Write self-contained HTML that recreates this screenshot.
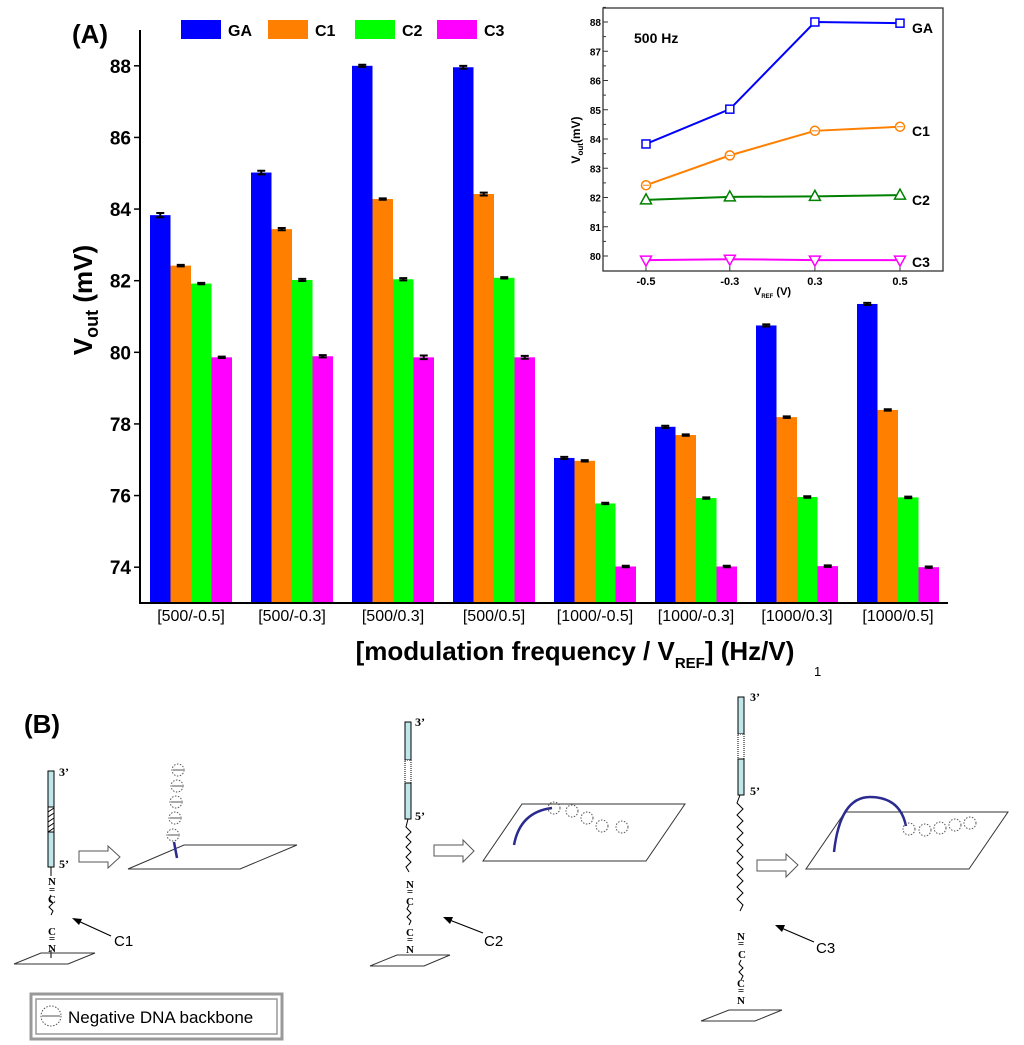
<!DOCTYPE html>
<html><head><meta charset="utf-8"><style>
html,body{margin:0;padding:0;background:#fff;}
svg{display:block;font-family:"Liberation Sans",Arial,sans-serif;}
</style></head><body>
<svg id="fig" width="1024" height="1045" viewBox="0 0 1024 1045" xmlns="http://www.w3.org/2000/svg">
<g id="mainChart"></g>
<g id="inset"></g>
<g id="partB">
  <text x="24" y="733" font-size="26" font-weight="bold">(B)</text>
  <g stroke="#000" stroke-width="1">
    <rect x="48" y="771" width="6" height="36" fill="#bfe6ea"/>
    <rect x="48" y="807" width="6" height="25" fill="#fff"/>
    <path d="M48,812 l6,-4 M48,817 l6,-4 M48,822 l6,-4 M48,827 l6,-4 M48,832 l6,-4" />
    <rect x="48" y="832" width="6" height="35" fill="#bfe6ea"/>
    <line x1="51" y1="867" x2="51" y2="876"/>
    <path d="M51,895 l-2,4 l4,4 l-4,4 l4,4 l-2,4" fill="none"/>
    <line x1="51" y1="950" x2="51" y2="958"/>
    <polygon points="14,964 68,964 95,953 41,953" fill="none" stroke="#333"/>
  </g>
  <text x="59" y="776" font-family="Liberation Serif" font-size="12" font-weight="bold">3’</text>
  <text x="59" y="868" font-family="Liberation Serif" font-size="12" font-weight="bold">5’</text>
  <g font-family="Liberation Serif" font-size="11" font-weight="bold" text-anchor="middle">
    <text x="52" y="885">N</text><text x="52" y="893">=</text><text x="52" y="903">C</text>
    <text x="52" y="935">C</text><text x="52" y="942">=</text><text x="52" y="952">N</text>
  </g>
  <line x1="111" y1="936" x2="76" y2="920" stroke="#000" stroke-width="1.2"/>
  <polygon points="72,918 82,919 79,925" fill="#000"/>
  <text x="114" y="946" font-size="15">C1</text>
  <polygon points="79,851 108,851 108,846 120,857 108,868 108,862 79,862" fill="#fff" stroke="#555"/>
  <polygon points="128,869 240,869 297,845 184,845" fill="none" stroke="#333"/>
  <path d="M174,842 L177,858" stroke="#2a2a90" stroke-width="2.5"/>
  <g fill="none" stroke="#555" stroke-dasharray="1.5,1.5">
    <circle cx="173" cy="835" r="6"/><circle cx="175" cy="818" r="6"/><circle cx="176" cy="802" r="6"/><circle cx="177" cy="786" r="6"/><circle cx="178" cy="770" r="6"/>
  </g>
  <g stroke="#555"><path d="M168,835h10M170,818h10M171,802h10M172,786h10M173,770h10"/></g>
  <rect x="31" y="994" width="251" height="45" fill="none" stroke="#999" stroke-width="3"/>
  <rect x="36" y="999" width="241" height="35" fill="none" stroke="#999" stroke-width="1.5"/>
  <circle cx="51" cy="1016" r="10" fill="none" stroke="#555" stroke-dasharray="1.5,1.5"/>
  <line x1="42" y1="1016" x2="60" y2="1016" stroke="#555"/>
  <text x="68" y="1023" font-size="17">Negative DNA backbone</text>
  <g stroke="#000" stroke-width="1">
    <rect x="405" y="722" width="6" height="38" fill="#bfe6ea"/>
    <rect x="405" y="760" width="6" height="23" fill="#fff" stroke-dasharray="1,1"/>
    <rect x="405" y="783" width="6" height="36" fill="#bfe6ea"/>
    <path d="M408,819 l-2,8 l5,5 l-5,5 l5,5 l-5,5 l5,5 l-5,5 l5,5 l-5,5 l3,5" fill="none"/>
    <path d="M409,905 l-2,4 l4,4 l-4,4 l4,4 l-2,4" fill="none"/>
    <polygon points="370,966 424,966 450,955 397,955" fill="none" stroke="#333"/>
  </g>
  <text x="415" y="726" font-family="Liberation Serif" font-size="12" font-weight="bold">3’</text>
  <text x="415" y="820" font-family="Liberation Serif" font-size="12" font-weight="bold">5’</text>
  <g font-family="Liberation Serif" font-size="11" font-weight="bold" text-anchor="middle">
    <text x="410" y="888">N</text><text x="410" y="895">=</text><text x="410" y="905">C</text>
    <text x="410" y="936">C</text><text x="410" y="943">=</text><text x="410" y="953">N</text>
  </g>
  <line x1="483" y1="933" x2="447" y2="919" stroke="#000" stroke-width="1.2"/>
  <polygon points="443,917 453,917 450,924" fill="#000"/>
  <text x="484" y="946" font-size="15">C2</text>
  <polygon points="434,845 463,845 463,840 474,851 463,862 463,856 434,856" fill="#fff" stroke="#555"/>
  <polygon points="483,861 646,861 685,804 522,804" fill="none" stroke="#333"/>
  <path d="M514,845 Q520,812 552,808" stroke="#2a2a90" stroke-width="2.5" fill="none"/>
  <g fill="none" stroke="#555" stroke-dasharray="1.5,1.5">
    <circle cx="554" cy="808" r="6"/><circle cx="572" cy="811" r="6"/><circle cx="587" cy="818" r="6"/><circle cx="602" cy="826" r="6"/><circle cx="622" cy="827" r="6"/>
  </g>
  <g stroke="#000" stroke-width="1">
    <rect x="738" y="697" width="6" height="37" fill="#bfe6ea"/>
    <rect x="738" y="734" width="6" height="25" fill="#fff" stroke-dasharray="1,1"/>
    <rect x="738" y="759" width="6" height="36" fill="#bfe6ea"/>
    <path d="M740,795 l-3,8 l6,6 l-6,6 l6,6 l-6,6 l6,6 l-6,6 l6,6 l-6,6 l6,6 l-6,6 l6,6 l-6,6 l6,6 l-6,6 l6,6 l-6,6 l6,6 l-3,6" fill="none"/>
    <path d="M741,960 l-2,4 l4,4 l-4,4 l4,4 l-2,4" fill="none"/>
    <polygon points="701,1021 755,1021 782,1010 729,1010" fill="none" stroke="#333"/>
  </g>
  <text x="750" y="701" font-family="Liberation Serif" font-size="12" font-weight="bold">3’</text>
  <text x="750" y="795" font-family="Liberation Serif" font-size="12" font-weight="bold">5’</text>
  <g font-family="Liberation Serif" font-size="11" font-weight="bold" text-anchor="middle">
    <text x="741" y="940">N</text><text x="741" y="947">=</text><text x="742" y="958">C</text>
    <text x="741" y="987">C</text><text x="741" y="994">=</text><text x="741" y="1004">N</text>
  </g>
  <line x1="814" y1="942" x2="779" y2="927" stroke="#000" stroke-width="1.2"/>
  <polygon points="775,925 785,925 782,932" fill="#000"/>
  <text x="816" y="953" font-size="15">C3</text>
  <polygon points="757,860 786,860 786,854 798,865 786,877 786,871 757,871" fill="#fff" stroke="#555"/>
  <polygon points="806,869 969,869 1008,812 845,812" fill="none" stroke="#333"/>
  <path d="M834,852 Q840,797 870,797 Q900,797 906,826" stroke="#2a2a90" stroke-width="2.5" fill="none"/>
  <g fill="none" stroke="#555" stroke-dasharray="1.5,1.5">
    <circle cx="909" cy="829" r="6"/><circle cx="925" cy="830" r="6"/><circle cx="940" cy="828" r="6"/><circle cx="955" cy="825" r="6"/><circle cx="970" cy="823" r="6"/>
  </g>
</g>
<script>
const categories = ["[500/-0.5]","[500/-0.3]","[500/0.3]","[500/0.5]","[1000/-0.5]","[1000/-0.3]","[1000/0.3]","[1000/0.5]"];
const seriesNames = ["GA","C1","C2","C3"];
const seriesColors = ["#0000ff","#ff8000","#00ff00","#ff00ff"];
const gaValues = [83.83,85.02,88.0,87.96,77.05,77.92,80.75,81.35];
const c1Values = [82.42,83.44,84.28,84.42,76.97,77.69,78.19,78.39];
const c2Values = [81.92,82.02,82.04,82.08,75.78,75.93,75.96,75.95];
const c3Values = [79.86,79.89,79.86,79.86,74.02,74.02,74.03,74.00];
const gaErr = [0.06,0.05,0.03,0.04,0.03,0.03,0.03,0.03];
const c1Err = [0.02,0.03,0.02,0.04,0.02,0.02,0.02,0.02];
const c2Err = [0.02,0.03,0.03,0.02,0.02,0.02,0.02,0.02];
const c3Err = [0.02,0.03,0.05,0.04,0.02,0.02,0.02,0.02];
const yTicks = [74,76,78,80,82,84,86,88];
const insetX = ["-0.5","-0.3","0.3","0.5"];
const insetGA = [83.83,85.02,88.0,87.96];
const insetC1 = [82.42,83.44,84.28,84.42];
const insetC2 = [81.92,82.02,82.04,82.08];
const insetC3 = [79.86,79.89,79.86,79.86];
const insetYTicks = [80,81,82,83,84,85,86,87,88];

const NS="http://www.w3.org/2000/svg";
function mk(parent,tag,attrs,text){const e=document.createElementNS(NS,tag);for(const k in attrs)e.setAttribute(k,attrs[k]);if(text!==undefined)e.textContent=text;parent.appendChild(e);return e;}

const g=document.getElementById('mainChart');
const x0=140,x1=948,yTop=30,yBot=603,vMin=73,vMax=89;
const yS=v=>yBot-(v-vMin)/(vMax-vMin)*(yBot-yTop);
const groupStart=i=>150+i*101;
const barW=20.5;
const allVals=[gaValues,c1Values,c2Values,c3Values];
const allErr=[gaErr,c1Err,c2Err,c3Err];
allVals.forEach((vals,s)=>{
  vals.forEach((v,i)=>{
    const bx=groupStart(i)+s*barW;
    const r=mk(g,'rect',{x:bx,y:yS(v),width:barW,height:yBot-yS(v),fill:seriesColors[s]});
    
    
    const e=allErr[s][i],cx=bx+barW/2;
    const eb=mk(g,'path',{d:`M${cx-4},${yS(v+e)}h8M${cx},${yS(v+e)}V${yS(v-e)}M${cx-4},${yS(v-e)}h8`,stroke:'#000','stroke-width':2,fill:'none'});
    
    
  });
});
mk(g,'path',{d:`M${x0},${yTop}V${yBot}H${x1}`,stroke:'#000','stroke-width':2,fill:'none'});
yTicks.forEach(t=>{
  mk(g,'line',{x1:x0-6,x2:x0,y1:yS(t),y2:yS(t),stroke:'#000','stroke-width':1.5});
  const tl=mk(g,'text',{x:x0-9,y:yS(t)+7,'text-anchor':'end','font-size':19,'font-weight':'bold'},t);
  
  
});
categories.forEach((c,i)=>{
  const tl=mk(g,'text',{x:groupStart(i)+2*barW,y:621,'text-anchor':'middle','font-size':16},c);
  
  
});
function rich(parent,attrs,parts){
  const t=mk(parent,'text',attrs);
  parts.forEach(p=>{const a={};if(p.fs)a['font-size']=p.fs;if(p.dy)a.dy=p.dy;mk(t,'tspan',a,p.t);});
  return t;
}
const yt=rich(g,{transform:'translate(92,300) rotate(-90)','text-anchor':'middle','font-size':26,'font-weight':'bold'},
  [{t:'V'},{t:'out',fs:18,dy:6},{t:' (mV)',dy:-6}]);


const xt=rich(g,{x:575,y:660,'text-anchor':'middle','font-size':26,'font-weight':'bold'},
  [{t:'[modulation frequency / V'},{t:'REF',fs:15,dy:8},{t:'] (Hz/V)',dy:-8}]);


mk(g,'text',{x:814,y:676,'font-size':13},'1');
const pa=mk(g,'text',{x:72,y:43,'font-size':26,'font-weight':'bold'},'(A)');


const legX=[181,268,355,437];
seriesNames.forEach((n,s)=>{
  const lr=mk(g,'rect',{x:legX[s],y:20,width:40,height:19,fill:seriesColors[s]});
  
  
  const lt=mk(g,'text',{x:legX[s]+47,y:36,'font-size':16,'font-weight':'bold'},n);
  
  
});

const ig=document.getElementById('inset');
const ix0=603,ix1=943,iy0=8,iy1=271;
const iyS=v=>256-(v-80)*(256-22)/8;
const ixPos=[646,730,815,900];
const ixS=i=>ixPos[0]+(ixPos[3]-ixPos[0])*[0,0.33,0.665,1][i];
mk(ig,'rect',{x:ix0,y:iy0,width:ix1-ix0,height:iy1-iy0,fill:'#fff',stroke:'#333','stroke-width':1.3});
insetYTicks.forEach(t=>{
  mk(ig,'line',{x1:ix0,x2:ix0+5,y1:iyS(t),y2:iyS(t),stroke:'#333'});
  mk(ig,'line',{x1:ix0,x2:ix0+3,y1:iyS(t+0.5),y2:iyS(t+0.5),stroke:'#333'});
  const tl=mk(ig,'text',{x:ix0-2,y:iyS(t)+4,'text-anchor':'end','font-size':10,'font-weight':'bold'},t);
  
  
});
insetX.forEach((l,i)=>{
  mk(ig,'line',{x1:ixS(i),x2:ixS(i),y1:iy1,y2:iy1-5,stroke:'#333'});
  const tl=mk(ig,'text',{x:ixS(i),y:285,'text-anchor':'middle','font-size':11,'font-weight':'bold'},l);
  
  
});
const iyt=rich(ig,{transform:'translate(580,140) rotate(-90)','text-anchor':'middle','font-size':12,'font-weight':'bold'},
  [{t:'V'},{t:'out',fs:8,dy:3},{t:'(mV)',dy:-3}]);


const ixt=rich(ig,{x:754,y:295,'font-size':11,'font-weight':'bold'},
  [{t:'V'},{t:'REF',fs:6,dy:3},{t:' (V)',dy:-3}]);


const it=mk(ig,'text',{x:634,y:43,'font-size':14,'font-weight':'bold'},'500 Hz');


const insetSeries=[insetGA,insetC1,insetC2,insetC3];
const insetColors=["#0000ff","#ff8000","#008000","#ff00ff"];
const labelY=[28,131,200,262];
insetSeries.forEach((vals,s)=>{
  const pts=vals.map((v,i)=>ixS(i)+','+iyS(v)).join(' ');
  const pl=mk(ig,'polyline',{points:pts,fill:'none',stroke:insetColors[s],'stroke-width':2});
  
  
  vals.forEach((v,i)=>{
    const x=ixS(i),y=iyS(v);let m;
    if(s===0)m=mk(ig,'rect',{x:x-4,y:y-4,width:8,height:8,fill:'#fff',stroke:insetColors[s],'stroke-width':1.5});
    else if(s===1){m=mk(ig,'circle',{cx:x,cy:y,r:4.5,fill:'#fff',stroke:insetColors[s],'stroke-width':1.5});mk(ig,'line',{x1:x-3,x2:x+3,y1:y,y2:y,stroke:insetColors[s]});}
    else if(s===2)m=mk(ig,'polygon',{points:`${x},${y-6} ${x-5.5},${y+4} ${x+5.5},${y+4}`,fill:'#fff',stroke:insetColors[s],'stroke-width':1.5});
    else m=mk(ig,'polygon',{points:`${x},${y+6} ${x-5.5},${y-4} ${x+5.5},${y-4}`,fill:'#fff',stroke:insetColors[s],'stroke-width':1.5});
    
    
  });
  const lt=mk(ig,'text',{x:912,y:labelY[s]+5,'font-size':14,'font-weight':'bold'},seriesNames[s]);
  
  
});
</script>
</svg>
</body></html>
